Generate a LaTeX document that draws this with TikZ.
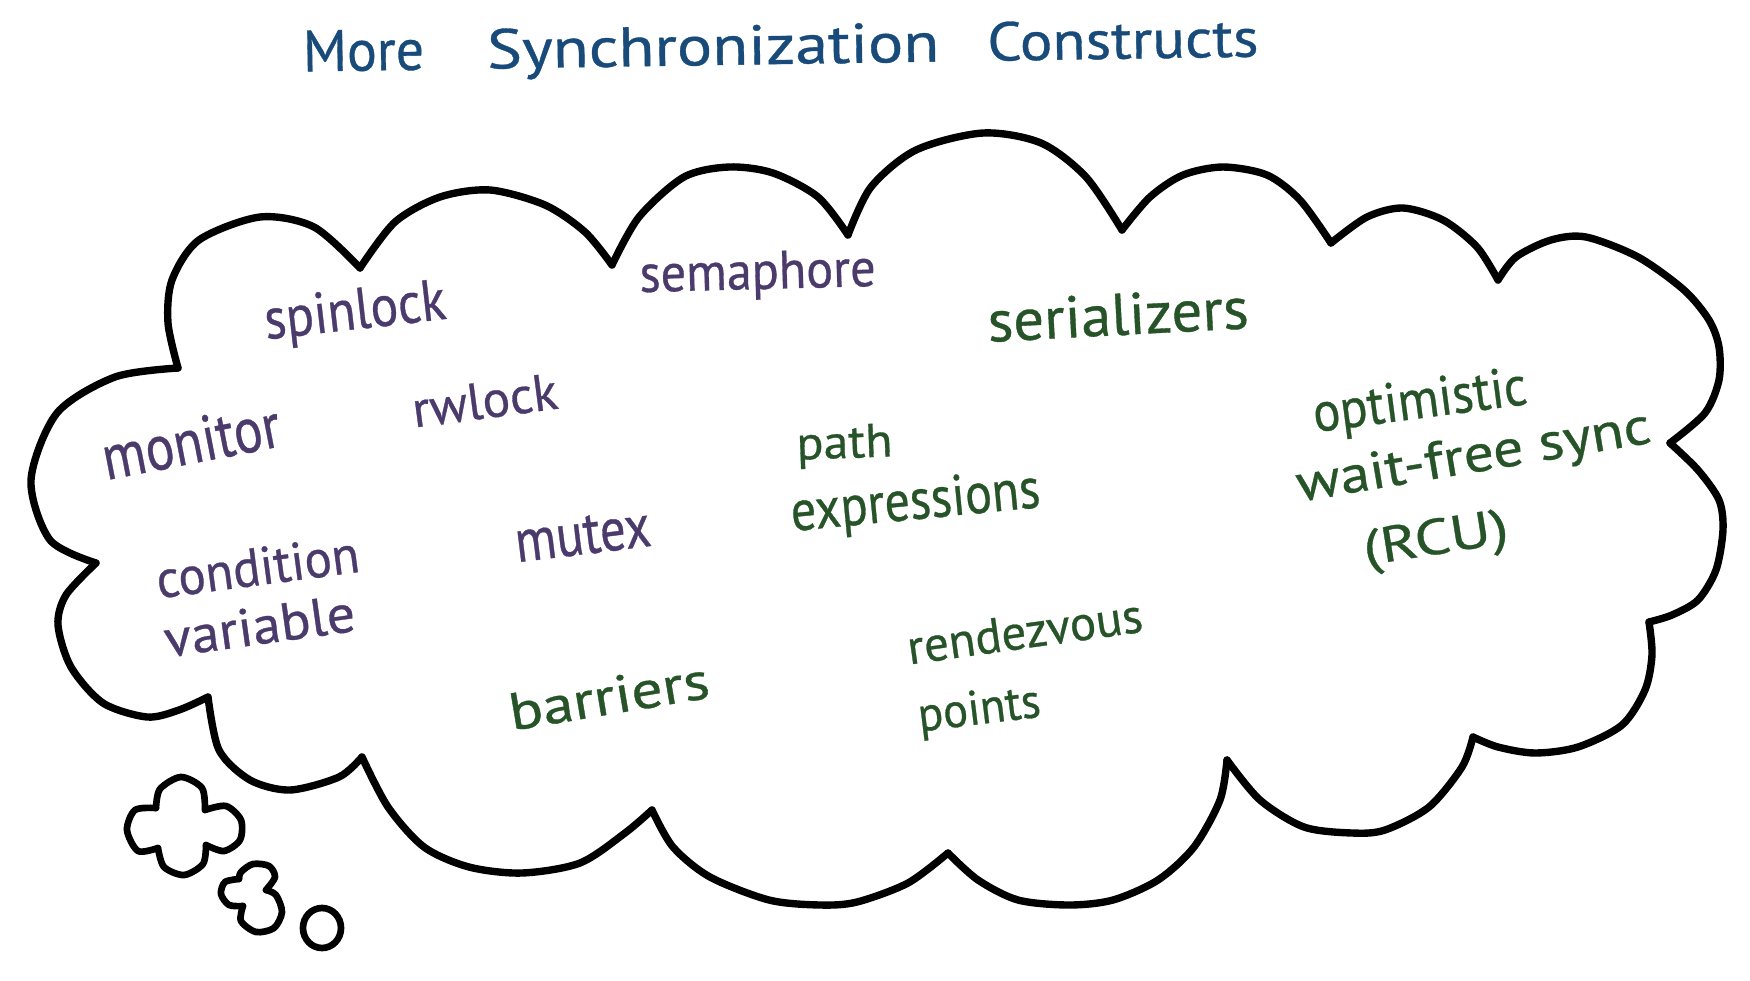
\documentclass[tikz,border=0pt]{standalone}
\usepackage{fontspec}
\usepackage{graphicx}
\setmainfont{PT Sans}[FakeBold=0.6]
\definecolor{pur}{RGB}{75,58,108}
\definecolor{grn}{RGB}{38,84,40}
\definecolor{blu}{RGB}{24,74,122}
\newcommand\hw[3]{\resizebox{#1}{!}{\scalebox{1}[#2]{#3}}}
\begin{document}
\begin{tikzpicture}[x=0.01cm,y=-0.01cm,
  cloudline/.style={line width=2.1pt, line cap=round, line join=round, black},
  smallcloud/.style={line width=1.9pt, line cap=round, line join=round, black},
  lbl/.style={inner sep=0pt, anchor=base},
  pl/.style={lbl, text=pur},
  gl/.style={lbl, text=grn}]
\useasboundingbox (0,0) rectangle (1750,981);
\fill[white] (0,0) rectangle (1750,981);

% main cloud, one bump at a time
\draw[cloudline] plot[smooth] coordinates {(178,368) (168,323) (172,280) (199,240) (260,217) (314,227) (360,268)};
\draw[cloudline] plot[smooth] coordinates {(360,268) (395,222) (440,197) (490,190) (545,205) (585,232) (612,265)};
\draw[cloudline] plot[smooth] coordinates {(612,265) (639,217) (684,177) (729,167) (773,173) (818,197) (848,235)};
\draw[cloudline] plot[smooth] coordinates {(848,235) (871,187) (916,150) (983,133) (1041,143) (1086,177) (1122,230)};
\draw[cloudline] plot[smooth] coordinates {(1122,230) (1150,197) (1183,175) (1223,167) (1267,175) (1300,200) (1331,243)};
\draw[cloudline] plot[smooth] coordinates {(1331,243) (1367,217) (1403,208) (1443,220) (1477,247) (1498,280)};
\draw[cloudline] plot[smooth] coordinates {(1498,280) (1516,257) (1551,240) (1586,237) (1638,257) (1684,290) (1709,320) (1719,347) (1719,380) (1705,413) (1670,443)};
\draw[cloudline] plot[smooth] coordinates {(1670,443) (1698,470) (1719,500) (1723,530) (1716,570) (1698,600) (1672,615) (1649,622)};
\draw[cloudline] plot[smooth] coordinates {(1649,622) (1652,655) (1645,690) (1622,725) (1578,747) (1535,753) (1498,747) (1473,737)};
\draw[cloudline] plot[smooth] coordinates {(1473,737) (1462,767) (1429,807) (1385,830) (1352,833) (1304,827) (1260,800) (1227,760)};
\draw[cloudline] plot[smooth] coordinates {(1227,760) (1220,800) (1194,847) (1158,880) (1113,900) (1069,905) (1018,900) (978,880) (948,853)};
\draw[cloudline] plot[smooth] coordinates {(948,853) (908,883) (857,902) (820,905) (769,900) (710,877) (673,847) (652,810)};
\draw[cloudline] plot[smooth] coordinates {(652,810) (625,833) (580,863) (522,873) (469,867) (424,847) (388,807) (362,757)};
\draw[cloudline] plot[smooth] coordinates {(362,757) (339,777) (290,790) (250,780) (219,750) (208,697)};
\draw[cloudline] plot[smooth] coordinates {(208,697) (179,710) (147,717) (103,703) (71,667) (58,625) (66,595) (96,563)};
\draw[cloudline] plot[smooth] coordinates {(96,563) (50,540) (31,480) (57,413) (115,377) (178,368)};

% thought bubbles
\draw[smallcloud] plot[smooth] coordinates {(156,808) (160,789) (181,777) (202,788) (205,810)};
\draw[smallcloud] plot[smooth] coordinates {(205,810) (226,806) (241,820) (240,840) (224,851) (206,845)};
\draw[smallcloud] plot[smooth] coordinates {(206,845) (203,864) (184,875) (164,867) (158,848)};
\draw[smallcloud] plot[smooth] coordinates {(158,848) (138,851) (127,830) (135,810) (156,808)};
\draw[smallcloud] plot[smooth] coordinates {(266,890) (275,877) (269,866) (253,864) (241,872) (239,879)};
\draw[smallcloud] plot[smooth] coordinates {(239,879) (225,882) (221,894) (229,905) (243,906)};
\draw[smallcloud] plot[smooth] coordinates {(243,906) (241,921) (256,932) (274,928) (282,912) (276,895) (266,890)};
\draw[smallcloud] (322,928) ellipse [x radius=0.19cm, y radius=0.2cm];

% title
\node[lbl, text=blu, rotate=0.9] (title) at (781,64) {\hw{1.21cm}{1.05}{More}\hspace{0.63cm}\hw{4.52cm}{0.85}{Synchronization}\hspace{0.48cm}\hw{2.71cm}{0.9}{Constructs}};

% purple items
\node[pl, rotate=6.5] (spinlock) at (357,329) {\hw{1.82cm}{1.13}{spinlock}};
\node[pl, rotate=1.5] (semaphore) at (758,289) {\hw{2.36cm}{1.07}{semaphore}};
\node[pl, rotate=11] (monitor) at (195,463) {\hw{1.8cm}{1.2}{monitor}};
\node[pl, rotate=7.5] (rwlock) at (487,418) {\hw{1.46cm}{1.0}{rwlock}};
\node[pl, rotate=7.5] (condition) at (260,585) {\hw{2.04cm}{1.05}{condition}};
\node[pl, rotate=8] (variable) at (262,644) {\hw{1.92cm}{0.95}{variable}};
\node[pl, rotate=7] (mutex) at (585,554) {\hw{1.36cm}{1.2}{mutex}};

% green items
\node[gl, rotate=3] (serializers) at (1119,335) {\hw{2.61cm}{0.97}{serializers}};
\node[gl, rotate=2] (path) at (845,458) {\hw{0.96cm}{0.95}{path}};
\node[gl, rotate=5.5] (expressions) at (917,519) {\hw{2.5cm}{1.15}{expressions}};
\node[gl, rotate=9.5] (barriers) at (612,714) {\hw{2.02cm}{0.85}{barriers}};
\node[gl, rotate=8] (rendezvous) at (1027,648) {\hw{2.37cm}{1.0}{rendezvous}};
\node[gl, rotate=7] (points) at (981,724) {\hw{1.23cm}{1.05}{points}};
\node[gl, rotate=7.5] (optimistic) at (1422,418) {\hw{2.15cm}{1.1}{optimistic}};
\node[gl, rotate=9.5] (waitfree) at (1476,472) {\hw{3.58cm}{0.88}{wait-free sync}};
\node[gl, rotate=9] (rcu) at (1438,554) {\hw{1.46cm}{0.8}{(RCU)}};
\end{tikzpicture}
\end{document}
